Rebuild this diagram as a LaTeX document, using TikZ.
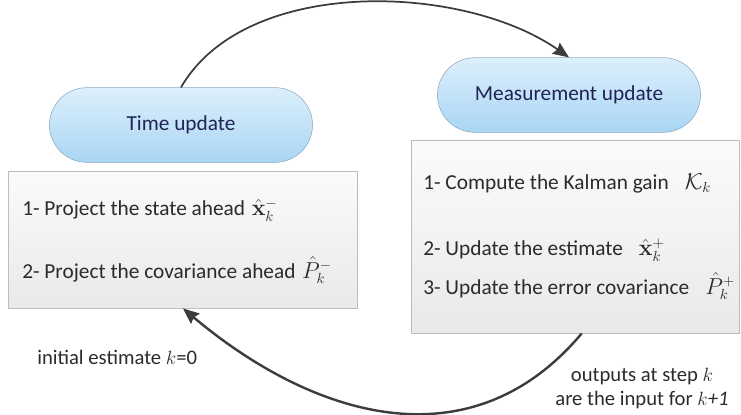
\documentclass[tikz,border=0pt]{standalone}
\usepackage[no-math]{fontspec}
\setmainfont{Carlito}
\usetikzlibrary{arrows.meta,shapes.misc,positioning}

\definecolor{pilltop}{HTML}{DCEFFC}
\definecolor{pillbot}{HTML}{A9D6F4}
\definecolor{pillrim}{HTML}{8DA7BC}
\definecolor{paneltop}{HTML}{FBFBFB}
\definecolor{panelbot}{HTML}{E9E9E9}
\definecolor{panelrim}{HTML}{BDBDBD}
\definecolor{inktext}{HTML}{2B2B2B}
\definecolor{arrowgray}{HTML}{3C3C3C}

\tikzset{
  pill/.style={rounded rectangle, draw=pillrim, top color=pilltop, bottom color=pillbot,
    minimum height=56pt, text=inktext!80!blue, font=\fontsize{16}{18}\selectfont},
  panel/.style={rectangle, draw=panelrim, top color=paneltop, bottom color=panelbot, inner sep=0pt},
  item/.style={anchor=west, inner sep=0pt, text=inktext, font=\fontsize{16}{18}\selectfont},
  loop/.style={-{Stealth[length=12pt,width=10pt,inset=1.5pt]}, draw=arrowgray}
}

\begin{document}
\begin{tikzpicture}[x=0.75pt,y=0.75pt]
 \useasboundingbox (0,0) rectangle (741,414);
 % the two phases of the filter
 \node[pill,minimum width=204pt]   (tu) at (181,289) {Time update};
 \node[pill,minimum width=204pt]   (mu) at (569,319) {Measurement update};
 % what each phase does
 \node[panel,minimum width=262pt,minimum height=103pt] (pred) at (183,174.5) {};
 \node[panel,minimum width=246pt,minimum height=145pt] (upd)  at (575,177.5) {};
 \node[item] (p1) at (22,204) {1- Project the state ahead\hspace{5pt}$\hat{\mathbf{x}}_k^-$};
 \node[item] (p2) at (22,144) {2- Project the covariance ahead\hspace{5pt}$\hat{P}_k^-$};
 \node[item] (u1) at (423,231) {1- Compute the Kalman gain\hspace{12pt}$\mathcal{K}_k$};
 \node[item] (u2) at (423,164) {2- Update the estimate\hspace{12pt}$\hat{\mathbf{x}}_k^+$};
 \node[item] (u3) at (423,128) {3- Update the error covariance\hspace{12pt}$\hat{P}_k^+$};
 % cycle between the phases
 \draw[loop,line width=1.3pt] (tu.north) to[out=60,in=145,looseness=0.85] (mu.north);
 \draw[loop,line width=1.8pt] ([xshift=5pt]upd.south) to[out=230,in=320,looseness=1.1] (pred.south);
 \node[item,font=\fontsize{15.5}{17.5}\selectfont] (init) at (37,57) {initial estimate $k$=0};
 \node[inner sep=0pt,align=center,text=inktext,font=\fontsize{15.5}{17.5}\selectfont] (step) at (642,25.5)
   {outputs at step $k$\\are the input for $k$\textit{+1}};
\end{tikzpicture}
\end{document}
